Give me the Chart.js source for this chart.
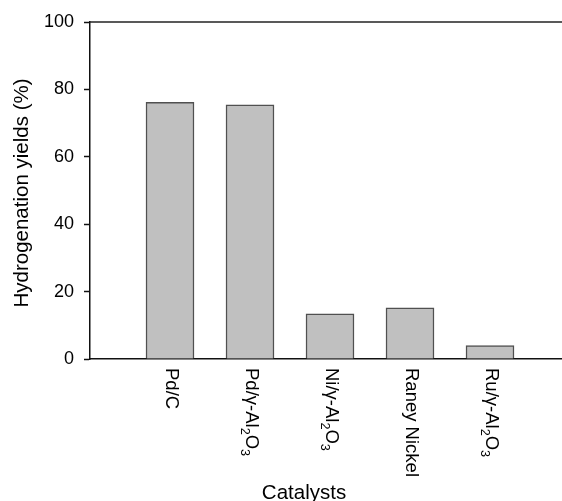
<!DOCTYPE html>
<html>
<head>
<meta charset="utf-8">
<script src="https://cdn.jsdelivr.net/npm/chart.js@4/dist/chart.umd.min.js"></script>
<style>
html,body{margin:0;padding:0;background:#fff;overflow:hidden;}
canvas{display:block;}
</style>
</head>
<body>
<canvas id="c" width="562" height="501"></canvas>
<script>
// ---- data ----
const categories = ['Pd/C', 'Pd/γ-Al₂O₃', 'Ni/γ-Al₂O₃', 'Raney Nickel', 'Ru/γ-Al₂O₃'];
const yields = [76.2, 75.4, 13.4, 15.2, 4.0];
const yTicks = [0, 20, 40, 60, 80, 100];
const xTitle = 'Catalysts';
const yTitle = 'Hydrogenation yields (%)';

const FONT = '"Liberation Sans", Arial, sans-serif';
const subMap = {'₂':'2','₃':'3'};

function drawRichRotated(ctx, text, x, y, size) {
  // rotated 90deg clockwise, text reads top to bottom starting at (x,y)
  ctx.save();
  ctx.translate(x, y);
  ctx.rotate(Math.PI / 2);
  ctx.textAlign = 'left';
  ctx.textBaseline = 'middle';
  ctx.fillStyle = '#000';
  let pos = 0;
  for (const ch of text) {
    if (subMap[ch]) {
      ctx.font = (size * 0.68).toFixed(1) + 'px ' + FONT;
      ctx.fillText(subMap[ch], pos, size * 0.33);
      pos += ctx.measureText(subMap[ch]).width;
    } else {
      ctx.font = size + 'px ' + FONT;
      ctx.fillText(ch, pos, 0);
      pos += ctx.measureText(ch).width;
    }
  }
  ctx.restore();
}

const decor = {
  id: 'decor',
  afterDraw(chart) {
    const ctx = chart.ctx;
    const a = chart.chartArea;
    const xs = chart.scales.x;
    // top frame line
    ctx.save();
    ctx.strokeStyle = '#222';
    ctx.lineWidth = 1.5;
    ctx.beginPath();
    ctx.moveTo(a.left, a.top);
    ctx.lineTo(a.right, a.top);
    ctx.stroke();
    ctx.restore();
    // category labels
    categories.forEach((c, i) => {
      const px = xs.getPixelForValue(i + 1);
      drawRichRotated(ctx, c, px + 1, a.bottom + 9, 18.5);
    });
    // axis titles
    ctx.save();
    ctx.fillStyle = '#000';
    ctx.font = '20.5px ' + FONT;
    ctx.textAlign = 'center';
    ctx.textBaseline = 'alphabetic';
    ctx.fillText(xTitle, 304, 499);
    ctx.translate(28, 193);
    ctx.rotate(-Math.PI / 2);
    ctx.fillText(yTitle, 0, 0);
    ctx.restore();
  }
};

new Chart(document.getElementById('c'), {
  type: 'bar',
  data: {
    datasets: [{
      data: yields.map((v, i) => ({ x: i + 1, y: v })),
      backgroundColor: '#c0c0c0',
      borderColor: '#505050',
      borderWidth: 1.5,
      barThickness: 48
    }]
  },
  options: {
    responsive: false,
    animation: false,
    devicePixelRatio: 1,
    layout: { padding: { top: 22, right: 0, left: 0, bottom: 0 } },
    plugins: { legend: { display: false }, tooltip: { enabled: false } },
    scales: {
      x: {
        type: 'linear',
        offset: false,
        min: 0,
        max: (562 - 90) / 80,
        ticks: { display: false },
        grid: { display: false, offset: false },
        border: { display: true, color: '#111', width: 1.5 },
        afterFit(s) { s.height = 501 - 359; }
      },
      y: {
        min: 0,
        max: 100,
        afterBuildTicks(s) { s.ticks = yTicks.map(v => ({ value: v })); },
        ticks: {
          color: '#000',
          font: { family: FONT, size: 18 },
          padding: 10
        },
        grid: {
          drawOnChartArea: false,
          drawTicks: true,
          tickLength: 6,
          tickColor: '#111',
          tickWidth: 1.5
        },
        border: { display: true, color: '#111', width: 1.5 },
        afterFit(s) { s.width = 90; }
      }
    }
  },
  plugins: [decor]
});
</script>
</body>
</html>
